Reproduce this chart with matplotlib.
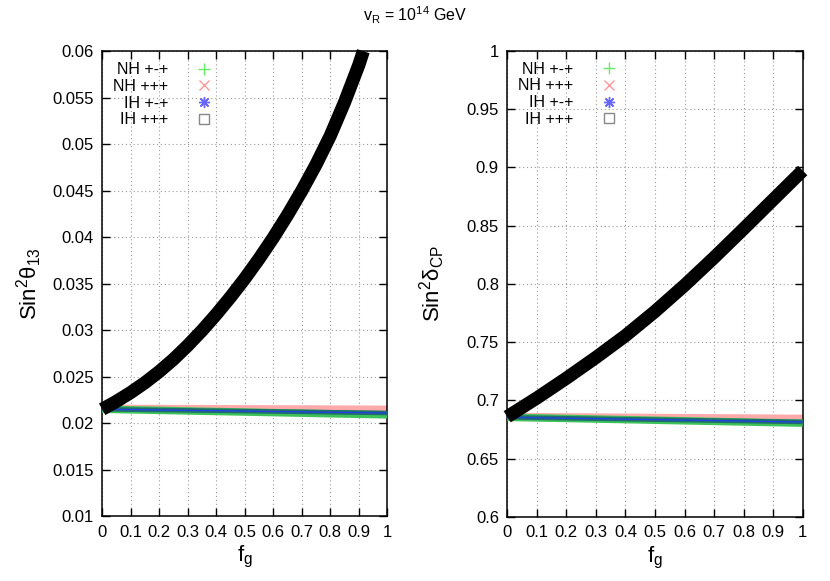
import matplotlib
matplotlib.use("Agg")
import matplotlib.pyplot as plt
from matplotlib.lines import Line2D

plt.rcParams['font.family'] = ['Liberation Sans', 'DejaVu Sans']
plt.rcParams['mathtext.fontset'] = 'custom'
plt.rcParams['mathtext.rm'] = 'Liberation Sans'
plt.rcParams['mathtext.it'] = 'Liberation Sans:italic'

# f_g values
fg_ticks = [0, 0.1, 0.2, 0.3, 0.4, 0.5, 0.6, 0.7, 0.8, 0.9, 1.0]
fg_flat = [0, 0.5, 1.0]

# left panel: sin^2 theta13
th13_fg = [0, 0.05, 0.1, 0.15, 0.2, 0.25, 0.3, 0.35, 0.4, 0.45, 0.5,
           0.55, 0.6, 0.65, 0.7, 0.75, 0.8, 0.85, 0.9, 0.916]
th13_ih_ppp = [0.0215, 0.02235, 0.0233, 0.02436, 0.02555, 0.02687, 0.02835, 0.02996, 0.0317, 0.03356, 0.03554,
               0.03767, 0.03994, 0.04238, 0.04499, 0.0478, 0.0509, 0.0545, 0.0585, 0.0600]
th13_nh_ppp = [0.02155, 0.02150, 0.02145]
th13_nh_pmp = [0.0215, 0.0212, 0.0209]
th13_ih_pmp = [0.0215, 0.0213, 0.0211]

# right panel: sin^2 delta_CP
dcp_fg = [0, 0.1, 0.2, 0.3, 0.4, 0.5, 0.6, 0.7, 0.8, 0.9, 1.0]
dcp_ih_ppp = [0.686, 0.702, 0.719, 0.7368, 0.7555, 0.7763, 0.7987, 0.8225, 0.8472, 0.8722, 0.8972]
dcp_nh_ppp = [0.6858, 0.6850, 0.6842]
dcp_nh_pmp = [0.6855, 0.6830, 0.6805]
dcp_ih_pmp = [0.6855, 0.6835, 0.6815]

labels = ["NH +-+", "NH +++", "IH +-+", "IH +++"]

fig = plt.figure(figsize=(8.3, 5.81), dpi=100)
ax1 = fig.add_axes([0.1231, 0.1115, 0.3435, 0.8004])
ax2 = fig.add_axes([0.6111, 0.1102, 0.3560, 0.8025])


def draw_panel(ax, x_curve, curve, nh_ppp, nh_pmp, ih_pmp, band_w):
    ax.plot(fg_flat, nh_ppp, color='#ffaaaa', lw=band_w, solid_capstyle='butt', zorder=2, clip_on=False)
    ax.plot(fg_flat, nh_pmp, color='#3fc25a', lw=band_w * 0.9, solid_capstyle='butt', zorder=3, clip_on=False)
    ax.plot(fg_flat, ih_pmp, color='#1d6e6a', lw=band_w * 0.55, solid_capstyle='butt', zorder=4, clip_on=False)
    ax.plot(fg_flat, ih_pmp, color='#2244dd', lw=1.0, zorder=5, clip_on=False)
    ax.plot(x_curve, curve, color='black', lw=9.5, solid_capstyle='butt',
            solid_joinstyle='round', zorder=6, clip_on=False)

    ax.set_xlim(0, 1)
    ax.set_xticks(fg_ticks)
    ax.set_xticklabels(['0', '0.1', '0.2', '0.3', '0.4', '0.5', '0.6', '0.7', '0.8', '0.9', '1'])
    ax.grid(True, color='#999999', linestyle=(0, (1, 2.5)), linewidth=0.8)
    ax.tick_params(direction='in', top=True, right=True, length=6, width=1,
                   labelsize=12, pad=6, colors='black')
    for s in ax.spines.values():
        s.set_linewidth(1.1)
    ax.set_xlabel('f$_\\mathrm{g}$', fontsize=16, labelpad=3)

    handles = [
        Line2D([], [], ls='none', marker='+', ms=8, mew=1, color='#66ee66'),
        Line2D([], [], ls='none', marker='x', ms=7, mew=1, color='#ff9999'),
        Line2D([], [], ls='none', marker=(8, 2, 0), ms=8, mew=1, color='#6666ff'),
        Line2D([], [], ls='none', marker='s', ms=7, mew=1, mfc='none', mec='#888888'),
    ]
    leg = ax.legend(handles, labels, loc='upper left', markerfirst=False, frameon=False,
                    fontsize=11.5, handlelength=1.5, handletextpad=1.5, labelspacing=0.1,
                    borderaxespad=0.3, bbox_to_anchor=(0.0, 1.0))
    leg.set_zorder(10)


draw_panel(ax1, th13_fg, th13_ih_ppp, th13_nh_ppp, th13_nh_pmp, th13_ih_pmp, 6)
ax1.set_ylim(0.01, 0.06)
ax1.set_yticks([0.01, 0.015, 0.02, 0.025, 0.03, 0.035, 0.04, 0.045, 0.05, 0.055, 0.06])
ax1.set_yticklabels(['0.01', '0.015', '0.02', '0.025', '0.03', '0.035', '0.04', '0.045', '0.05', '0.055', '0.06'])
ax1.set_ylabel('Sin$^2$θ$_{13}$', fontsize=16, labelpad=6)

draw_panel(ax2, dcp_fg, dcp_ih_ppp, dcp_nh_ppp, dcp_nh_pmp, dcp_ih_pmp, 6)
ax2.set_ylim(0.6, 1.0)
ax2.set_yticks([0.6, 0.65, 0.7, 0.75, 0.8, 0.85, 0.9, 0.95, 1.0])
ax2.set_yticklabels(['0.6', '0.65', '0.7', '0.75', '0.8', '0.85', '0.9', '0.95', '1'])
ax2.set_ylabel('Sin$^2$δ$_\\mathrm{CP}$', fontsize=16, labelpad=14)

fig.text(0.5, 0.974, 'v$_\\mathrm{R}$ = 10$^{14}$ GeV', ha='center', va='center', fontsize=11.5)

fig.savefig('out.png', dpi=100)
